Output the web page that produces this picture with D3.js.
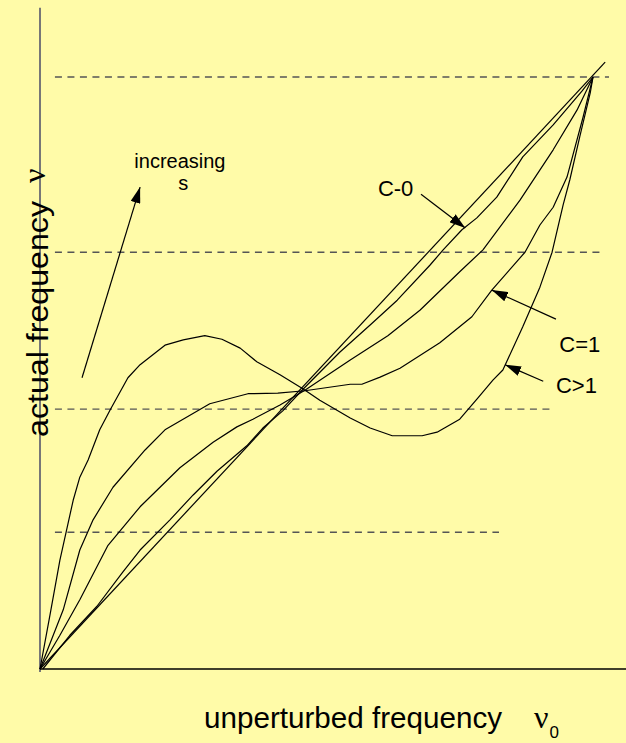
<!DOCTYPE html>
<html>
<head>
<meta charset="utf-8">
<script src="https://cdn.jsdelivr.net/npm/d3@7"></script>
<style>
  html, body { margin: 0; padding: 0; background: #fffba8; }
  svg { display: block; }
  text { font-family: "Liberation Sans", Arial, Helvetica, sans-serif; fill: #000; }
</style>
</head>
<body>
<div id="chart"></div>
<script>
// Curvas de frecuencia (unidades 0-100 en ambos ejes)
const lineStraight = [[0, 0], [102.2, 102.5]];

const curveC0 = [
  [0.5, 0], [5.4, 5.7], [10.3, 10.6], [15.0, 16.4], [18.1, 20.1], [23.5, 25.2],
  [27.7, 29.4], [32.0, 33.4], [37.4, 37.7], [40.3, 40.7], [43.9, 43.6], [47.6, 47.3],
  [54.2, 53.5], [59.7, 58.1], [64.6, 62.3], [70.5, 68.2], [72.9, 70.8], [76.3, 74.2],
  [79.0, 76.2], [82.6, 79.7], [87.3, 86.5], [92.8, 91.9], [98.0, 97.6], [100, 100]
];

const curveMid = [
  [0, 0], [3.6, 5.7], [7.2, 11.7], [12.3, 20.9], [18.1, 27.4], [25.3, 34.0],
  [31.3, 38.3], [35.6, 40.9], [38.5, 42.2], [43.4, 44.6], [47.9, 47.1], [56.1, 52.2],
  [62.9, 56.3], [68.7, 60.6], [75.9, 67.1], [80.1, 70.8], [86.8, 79.2], [92.8, 87.7],
  [97.1, 94.4], [100, 100]
];

const curveC1 = [
  [0, 0], [4.2, 10.0], [7.2, 20.1], [9.6, 25.2], [13.2, 30.7], [19.0, 37.0],
  [22.6, 40.4], [30.7, 44.8], [37.6, 46.5], [43.0, 46.6], [47.9, 47.0], [56.1, 48.1],
  [58.2, 48.1], [61.5, 49.3], [65.1, 50.8], [72.3, 55.1], [78.1, 59.5], [81.7, 64.0],
  [87.7, 70.4], [90.4, 75.0], [92.8, 78.0], [95.3, 83.1], [98.2, 93.2], [100, 100]
];

const curveCgt1 = [
  [0, 0], [1.8, 9.1], [3.6, 18.4], [6.0, 28.5], [7.2, 32.4], [8.7, 35.3],
  [10.8, 40.4], [12.7, 43.8], [15.9, 49.2], [18.1, 51.4], [22.6, 54.7], [25.9, 55.6],
  [29.8, 56.3], [32.9, 55.7], [36.2, 54.2], [39.2, 51.9], [43.4, 49.7], [47.6, 47.3],
  [50.6, 45.4], [56.1, 42.4], [59.7, 40.7], [63.7, 39.4], [69.1, 39.4], [71.8, 40.0],
  [75.9, 42.2], [79.2, 45.8], [81.9, 48.8], [83.7, 50.5], [87.3, 57.8], [90.4, 64.5],
  [92.6, 70.4], [94.6, 78.4], [95.8, 82.6], [97.6, 89.9], [99.5, 97.3], [100, 100]
];

// Líneas discontinuas horizontales: nivel y extremos en x
const dashLevels = [100, 70.4, 43.9, 23.1];
const dashStarts = [2.7, 2.7, 2.7, 2.7];
const dashEnds = [102.9, 101.8, 92.2, 83.0];

// Flechas de anotación: [cola, punta]
const arrows = [
  [[7.6, 49.2], [18.1, 81.4]],
  [[68.9, 80.2], [76.9, 74.5]],
  [[93.3, 59.1], [81.7, 64.0]],
  [[91.0, 48.6], [84.1, 51.4]]
];

// Etiquetas de anotación
const labels = [
  { text: "increasing", x: 25.3, y: 84.6, anchor: "middle", size: 20 },
  { text: "s", x: 25.9, y: 80.9, anchor: "middle", size: 20 },
  { text: "C-0", x: 61.1, y: 79.9, anchor: "start", size: 22 },
  { text: "C=1", x: 93.9, y: 53.5, anchor: "start", size: 22 },
  { text: "C>1", x: 93.3, y: 46.6, anchor: "start", size: 22 }
];

const width = 626;
const height = 743;

const svg = d3.select("#chart").append("svg")
  .attr("width", width)
  .attr("height", height);

svg.append("rect")
  .attr("width", width)
  .attr("height", height)
  .attr("fill", "#fffba8");

// Escalas
const x = d3.scaleLinear().domain([0, 100]).range([40, 593]);
const y = d3.scaleLinear().domain([0, 100]).range([669, 77]);

// Marcador de punta de flecha
svg.append("defs").append("marker")
  .attr("id", "head")
  .attr("markerUnits", "userSpaceOnUse")
  .attr("viewBox", "0 0 16 10")
  .attr("refX", 16)
  .attr("refY", 5)
  .attr("markerWidth", 16)
  .attr("markerHeight", 10)
  .attr("orient", "auto")
  .append("path")
  .attr("d", "M0,0 L16,5 L0,10 Z")
  .attr("fill", "#000");

// Líneas discontinuas
svg.selectAll(".dash")
  .data(dashLevels)
  .enter()
  .append("line")
  .attr("class", "dash")
  .attr("x1", (d, i) => x(dashStarts[i]))
  .attr("x2", (d, i) => x(dashEnds[i]))
  .attr("y1", d => y(d))
  .attr("y2", d => y(d))
  .attr("stroke", "#555")
  .attr("stroke-width", 1.4)
  .attr("stroke-dasharray", "7,5.5");

// Ejes
svg.append("line")
  .attr("x1", x(0)).attr("x2", x(0))
  .attr("y1", y(111.7)).attr("y2", y(-0.5))
  .attr("stroke", "#777")
  .attr("stroke-width", 2);

svg.append("line")
  .attr("x1", x(0)).attr("x2", x(106))
  .attr("y1", y(0)).attr("y2", y(0))
  .attr("stroke", "#000")
  .attr("stroke-width", 1.5);

// Curvas
const line = d3.line()
  .x(d => x(d[0]))
  .y(d => y(d[1]));

const allCurves = [lineStraight, curveC0, curveMid, curveC1, curveCgt1];

svg.selectAll(".curve")
  .data(allCurves)
  .enter()
  .append("path")
  .attr("class", "curve")
  .attr("d", line)
  .attr("fill", "none")
  .attr("stroke", "#000")
  .attr("stroke-width", 1.2)
  .attr("stroke-linejoin", "round");

// Flechas
svg.selectAll(".arrow")
  .data(arrows)
  .enter()
  .append("line")
  .attr("class", "arrow")
  .attr("x1", d => x(d[0][0]))
  .attr("y1", d => y(d[0][1]))
  .attr("x2", d => x(d[1][0]))
  .attr("y2", d => y(d[1][1]))
  .attr("stroke", "#000")
  .attr("stroke-width", 1.2)
  .attr("marker-end", "url(#head)");

// Etiquetas
svg.selectAll(".label")
  .data(labels)
  .enter()
  .append("text")
  .attr("class", "label")
  .attr("x", d => x(d.x))
  .attr("y", d => y(d.y))
  .attr("text-anchor", d => d.anchor)
  .style("font-size", d => d.size + "px")
  .text(d => d.text);

// Título del eje y
svg.append("text")
  .attr("transform", "translate(48,437) rotate(-90)")
  .attr("textLength", 236)
  .attr("lengthAdjust", "spacingAndGlyphs")
  .style("font-size", "30px")
  .text("actual frequency");

svg.append("text")
  .attr("transform", "translate(45,183) rotate(-90)")
  .style("font-size", "32px")
  .style("font-family", "'Liberation Serif', 'Times New Roman', serif")
  .text("ν");

// Título del eje x
svg.append("text")
  .attr("x", 204)
  .attr("y", 728)
  .attr("textLength", 298)
  .attr("lengthAdjust", "spacingAndGlyphs")
  .style("font-size", "30px")
  .text("unperturbed frequency");

const nu0 = svg.append("text")
  .attr("x", 534)
  .attr("y", 728)
  .style("font-size", "32px")
  .style("font-family", "'Liberation Serif', 'Times New Roman', serif");
nu0.append("tspan").text("ν");
nu0.append("tspan")
  .attr("dy", 10)
  .attr("dx", 1)
  .style("font-size", "17px")
  .style("font-family", "'Liberation Sans', Arial, sans-serif")
  .text("0");
</script>
</body>
</html>
